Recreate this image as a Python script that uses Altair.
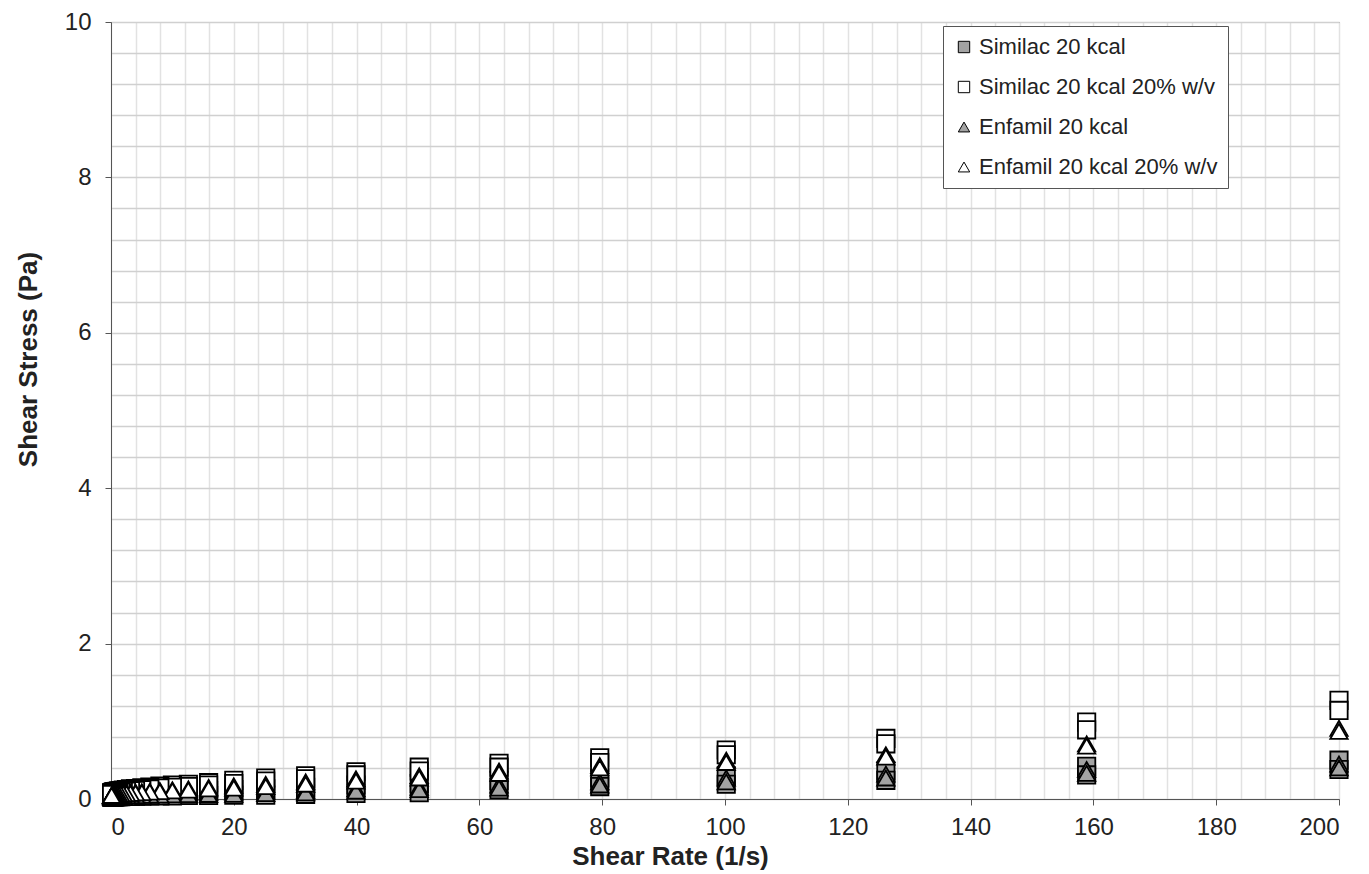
import altair as alt
import pandas as pd

shear_rate = [200, 158.9, 126.2, 100.2, 79.6, 63.2, 50.2, 39.9, 31.7, 25.2, 20.0, 15.9, 12.6, 10.0,
              7.96, 6.32, 5.02, 3.99, 3.17, 2.52, 2.00, 1.59, 1.26, 1.00, 0.796, 0.632, 0.502,
              0.399, 0.317, 0.252, 0.200, 0.159, 0.126, 0.100]

series_names = ["Similac 20 kcal", "Similac 20 kcal 20% w/v", "Enfamil 20 kcal", "Enfamil 20 kcal 20% w/v"]

# replicate runs (upper / lower) for each series
similac_hi = [0.50, 0.42, 0.36, 0.30, 0.27, 0.24, 0.20, 0.18, 0.15, 0.13, 0.12, 0.11, 0.10, 0.095,
              0.09, 0.085, 0.08, 0.077, 0.074, 0.071, 0.068, 0.066, 0.064, 0.062, 0.06, 0.058, 0.056,
              0.055, 0.054, 0.053, 0.052, 0.051, 0.05, 0.05]
similac_lo = [0.38, 0.31, 0.24, 0.19, 0.16, 0.12, 0.08, 0.07, 0.06, 0.05, 0.05, 0.045, 0.045, 0.04,
              0.04, 0.038, 0.036, 0.035, 0.034, 0.033, 0.032, 0.031, 0.03, 0.03, 0.029, 0.028, 0.028,
              0.027, 0.027, 0.026, 0.026, 0.025, 0.025, 0.025]
similac_w_hi = [1.27, 0.99, 0.78, 0.63, 0.53, 0.46, 0.41, 0.35, 0.30, 0.27, 0.24, 0.21, 0.19, 0.18,
                0.165, 0.155, 0.145, 0.135, 0.13, 0.12, 0.115, 0.11, 0.105, 0.10, 0.097, 0.094, 0.091,
                0.088, 0.086, 0.084, 0.082, 0.08, 0.078, 0.076]
similac_w_lo = [1.14, 0.89, 0.71, 0.57, 0.47, 0.41, 0.36, 0.31, 0.26, 0.23, 0.20, 0.18, 0.16, 0.15,
                0.14, 0.13, 0.12, 0.11, 0.105, 0.10, 0.095, 0.09, 0.085, 0.082, 0.079, 0.076, 0.073,
                0.07, 0.068, 0.066, 0.064, 0.062, 0.06, 0.058]
enfamil_hi = [0.45, 0.38, 0.32, 0.27, 0.22, 0.18, 0.15, 0.13, 0.11, 0.10, 0.09, 0.085, 0.08, 0.075,
              0.07, 0.066, 0.063, 0.06, 0.058, 0.056, 0.054, 0.052, 0.05, 0.049, 0.048, 0.047, 0.046,
              0.045, 0.044, 0.043, 0.042, 0.041, 0.04, 0.04]
enfamil_lo = [0.40, 0.33, 0.27, 0.22, 0.18, 0.14, 0.12, 0.10, 0.08, 0.07, 0.06, 0.058, 0.055, 0.052,
              0.05, 0.048, 0.046, 0.044, 0.042, 0.04, 0.039, 0.038, 0.037, 0.036, 0.035, 0.034, 0.033,
              0.032, 0.031, 0.03, 0.03, 0.029, 0.029, 0.028]
enfamil_w_hi = [0.91, 0.71, 0.57, 0.50, 0.43, 0.36, 0.30, 0.26, 0.22, 0.19, 0.17, 0.15, 0.13, 0.12,
                0.11, 0.10, 0.094, 0.088, 0.083, 0.079, 0.075, 0.072, 0.069, 0.066, 0.064, 0.062, 0.06,
                0.058, 0.056, 0.054, 0.053, 0.052, 0.051, 0.05]
enfamil_w_lo = [0.87, 0.68, 0.54, 0.47, 0.40, 0.33, 0.27, 0.23, 0.19, 0.16, 0.14, 0.13, 0.115, 0.105,
                0.095, 0.088, 0.082, 0.077, 0.073, 0.069, 0.066, 0.063, 0.061, 0.059, 0.057, 0.055, 0.053,
                0.051, 0.05, 0.049, 0.048, 0.047, 0.046, 0.045]

runs = [
    (series_names[0], similac_hi), (series_names[0], similac_lo),
    (series_names[1], similac_w_hi), (series_names[1], similac_w_lo),
    (series_names[2], enfamil_hi), (series_names[2], enfamil_lo),
    (series_names[3], enfamil_w_hi), (series_names[3], enfamil_w_lo),
]

rows = []
order = 0
for name, vals in runs:
    for r, v in zip(shear_rate, vals):
        rows.append({"series": name, "rate": r, "stress": v, "order": order})
        order += 1
df = pd.DataFrame(rows)

FONT = "Liberation Sans"

legend = alt.Legend(title=None, orient="none", legendX=832, legendY=4,
                    symbolStrokeWidth=1, symbolSize=130,
                    labelLimit=400, labelFontSize=22)

chart = alt.Chart(df).mark_point(filled=True, strokeWidth=1.8, size=300, opacity=1).encode(
    x=alt.X("rate:Q", scale=alt.Scale(domain=[0, 200], nice=False),
            axis=alt.Axis(values=list(range(0, 201, 4)),
                          labelExpr="datum.value % 20 === 0 ? datum.label : ''",
                          tickOpacity={"condition": {"test": "datum.value % 20 === 0", "value": 1}, "value": 0},
                          labelPadding=10,
                          title="Shear Rate (1/s)", titleX=559, titleY=57, titleBaseline="middle")),
    y=alt.Y("stress:Q", scale=alt.Scale(domain=[0, 10], nice=False),
            axis=alt.Axis(values=[round(i * 0.4, 1) for i in range(26)],
                          labelExpr="(abs(datum.value - round(datum.value/2)*2) < 0.001) ? format(datum.value, 'd') : ''",
                          tickOpacity={"condition": {"test": "abs(datum.value - round(datum.value/2)*2) < 0.001", "value": 1}, "value": 0},
                          labelPadding=14,
                          title="Shear Stress (Pa)", titleX=-83, titleY=337, titleBaseline="middle")),
    shape=alt.Shape("series:N", scale=alt.Scale(domain=series_names,
                                                 range=["square", "square", "triangle-up", "triangle-up"]),
                    legend=legend),
    fill=alt.Fill("series:N", scale=alt.Scale(domain=series_names,
                                               range=["#a3a3a3", "#ffffff", "#a3a3a3", "#ffffff"]),
                  legend=legend),
    stroke=alt.Stroke("series:N", scale=alt.Scale(domain=series_names,
                                                   range=["#000000", "#000000", "#000000", "#000000"]),
                      legend=legend),
    order=alt.Order("order:Q"),
).properties(
    width=1228, height=777,
    autosize=alt.AutoSizeParams(type="none"),
    padding={"left": 103, "top": 14, "right": 22, "bottom": 80},
).configure_view(
    stroke="#666", strokeWidth=1
).configure_axis(
    labelFont=FONT, labelFontSize=24, labelColor="#222",
    titleFont=FONT, titleFontSize=26, titleFontWeight="bold", titleColor="#222",
    domainColor="#555", tickColor="#555", tickSize=6,
).configure_axisX(
    gridColor="#e2e2e2", gridWidth=1.5,
).configure_axisY(
    gridColor="#d0d0d0", gridWidth=1.5,
).configure_legend(
    labelFont=FONT, labelColor="#222",
    strokeColor="#555", fillColor="white", padding=10,
    rowPadding=18, labelOffset=4, cornerRadius=0,
)

chart.save("out.html", embed_options={"renderer": "svg", "actions": False})
